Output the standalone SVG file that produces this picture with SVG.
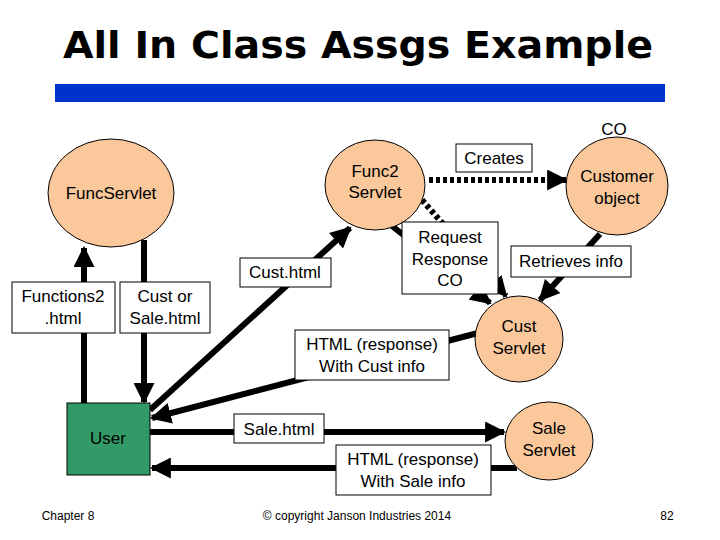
<svg xmlns="http://www.w3.org/2000/svg" width="720" height="540" viewBox="0 0 720 540">
<style>
text{font-family:"Liberation Sans",Arial,sans-serif;font-size:17px;fill:#000;text-anchor:middle}
.n{fill:#fbc89b;stroke:#000;stroke-width:1}
.b{fill:#fff;stroke:#000;stroke-width:1}
.l{stroke:#000;stroke-width:6;fill:none}
.d{stroke:#000;stroke-width:6;fill:none;stroke-dasharray:4 3}
</style>
<defs>
<marker id="a" viewBox="0 0 10 10" refX="9" refY="5" markerWidth="3.5" markerHeight="3.5" orient="auto" markerUnits="strokeWidth"><path d="M0,0L10,5L0,10z" fill="#000"/></marker>
</defs>
<rect width="720" height="540" fill="#fff"/>
<text x="358" y="58" style="font-size:38px;font-weight:bold;font-family:'DejaVu Sans','Liberation Sans',sans-serif" textLength="590" lengthAdjust="spacingAndGlyphs">All In Class Assgs Example</text>
<rect x="55" y="84" width="610" height="18" fill="#0033cc"/>
<text x="614" y="135">CO</text>
<g id="connectors">
<line class="l" x1="84" y1="403" x2="84" y2="248" marker-end="url(#a)"/>
<line class="l" x1="144" y1="240" x2="144" y2="402" marker-end="url(#a)"/>
<line class="l" x1="150" y1="410" x2="350" y2="228" marker-end="url(#a)"/>
<line class="l" x1="478" y1="333" x2="152" y2="418" marker-end="url(#a)"/>
<line class="l" x1="150" y1="432" x2="504" y2="432" marker-end="url(#a)"/>
<line class="l" x1="517" y1="468" x2="152" y2="468" marker-end="url(#a)"/>
<line class="l" x1="392" y1="226" x2="490" y2="303" marker-end="url(#a)"/>
<line class="d" x1="422" y1="200" x2="506" y2="296" marker-end="url(#a)"/>
<line class="d" x1="429" y1="180" x2="566" y2="180" marker-end="url(#a)"/>
<line class="l" x1="600" y1="234" x2="540" y2="300" marker-end="url(#a)"/>
</g>
<g id="funcservlet"><ellipse class="n" cx="111" cy="193" rx="63" ry="54"/><text x="111" y="199">FuncServlet</text></g>
<g id="func2"><ellipse class="n" cx="375" cy="185" rx="50" ry="45"/><text x="375" y="177">Func2</text><text x="375" y="198">Servlet</text></g>
<g id="customer"><ellipse class="n" cx="617" cy="186" rx="51" ry="49"/><text x="617" y="182">Customer</text><text x="617" y="204">object</text></g>
<g id="custservlet"><ellipse class="n" cx="519" cy="339" rx="44" ry="43"/><text x="519" y="332">Cust</text><text x="519" y="354">Servlet</text></g>
<g id="saleservlet"><ellipse class="n" cx="549" cy="441" rx="44" ry="39"/><text x="549" y="434">Sale</text><text x="549" y="456">Servlet</text></g>
<g id="user"><rect x="67" y="403" width="83" height="72" fill="#339966" stroke="#000"/><text x="108" y="444">User</text></g>
<g id="l1"><rect class="b" x="12" y="282" width="103" height="51"/><text x="63" y="302">Functions2</text><text x="63" y="324">.html</text></g>
<g id="l2"><rect class="b" x="120" y="282" width="90" height="51"/><text x="165" y="302">Cust or</text><text x="165" y="324">Sale.html</text></g>
<g id="l3"><rect class="b" x="240" y="258" width="91" height="29"/><text x="285" y="278">Cust.html</text></g>
<g id="l4"><rect class="b" x="402" y="222" width="96" height="72"/><text x="450" y="243">Request</text><text x="450" y="265">Response</text><text x="450" y="286">CO</text></g>
<g id="l5"><rect class="b" x="511" y="246" width="120" height="31"/><text x="571" y="267">Retrieves info</text></g>
<g id="l6"><rect class="b" x="456" y="144" width="76" height="28"/><text x="494" y="164">Creates</text></g>
<g id="l7"><rect class="b" x="295" y="330" width="154" height="50"/><text x="372" y="350">HTML (response)</text><text x="372" y="372">With Cust info</text></g>
<g id="l8"><rect class="b" x="234" y="414" width="90" height="29"/><text x="279" y="435">Sale.html</text></g>
<g id="l9"><rect class="b" x="336" y="445" width="155" height="50"/><text x="413" y="465">HTML (response)</text><text x="413" y="487">With Sale info</text></g>
<text x="68" y="520" style="font-size:12px">Chapter 8</text>
<text x="357" y="520" style="font-size:12px">© copyright Janson Industries 2014</text>
<text x="667" y="520" style="font-size:12px">82</text>
</svg>
